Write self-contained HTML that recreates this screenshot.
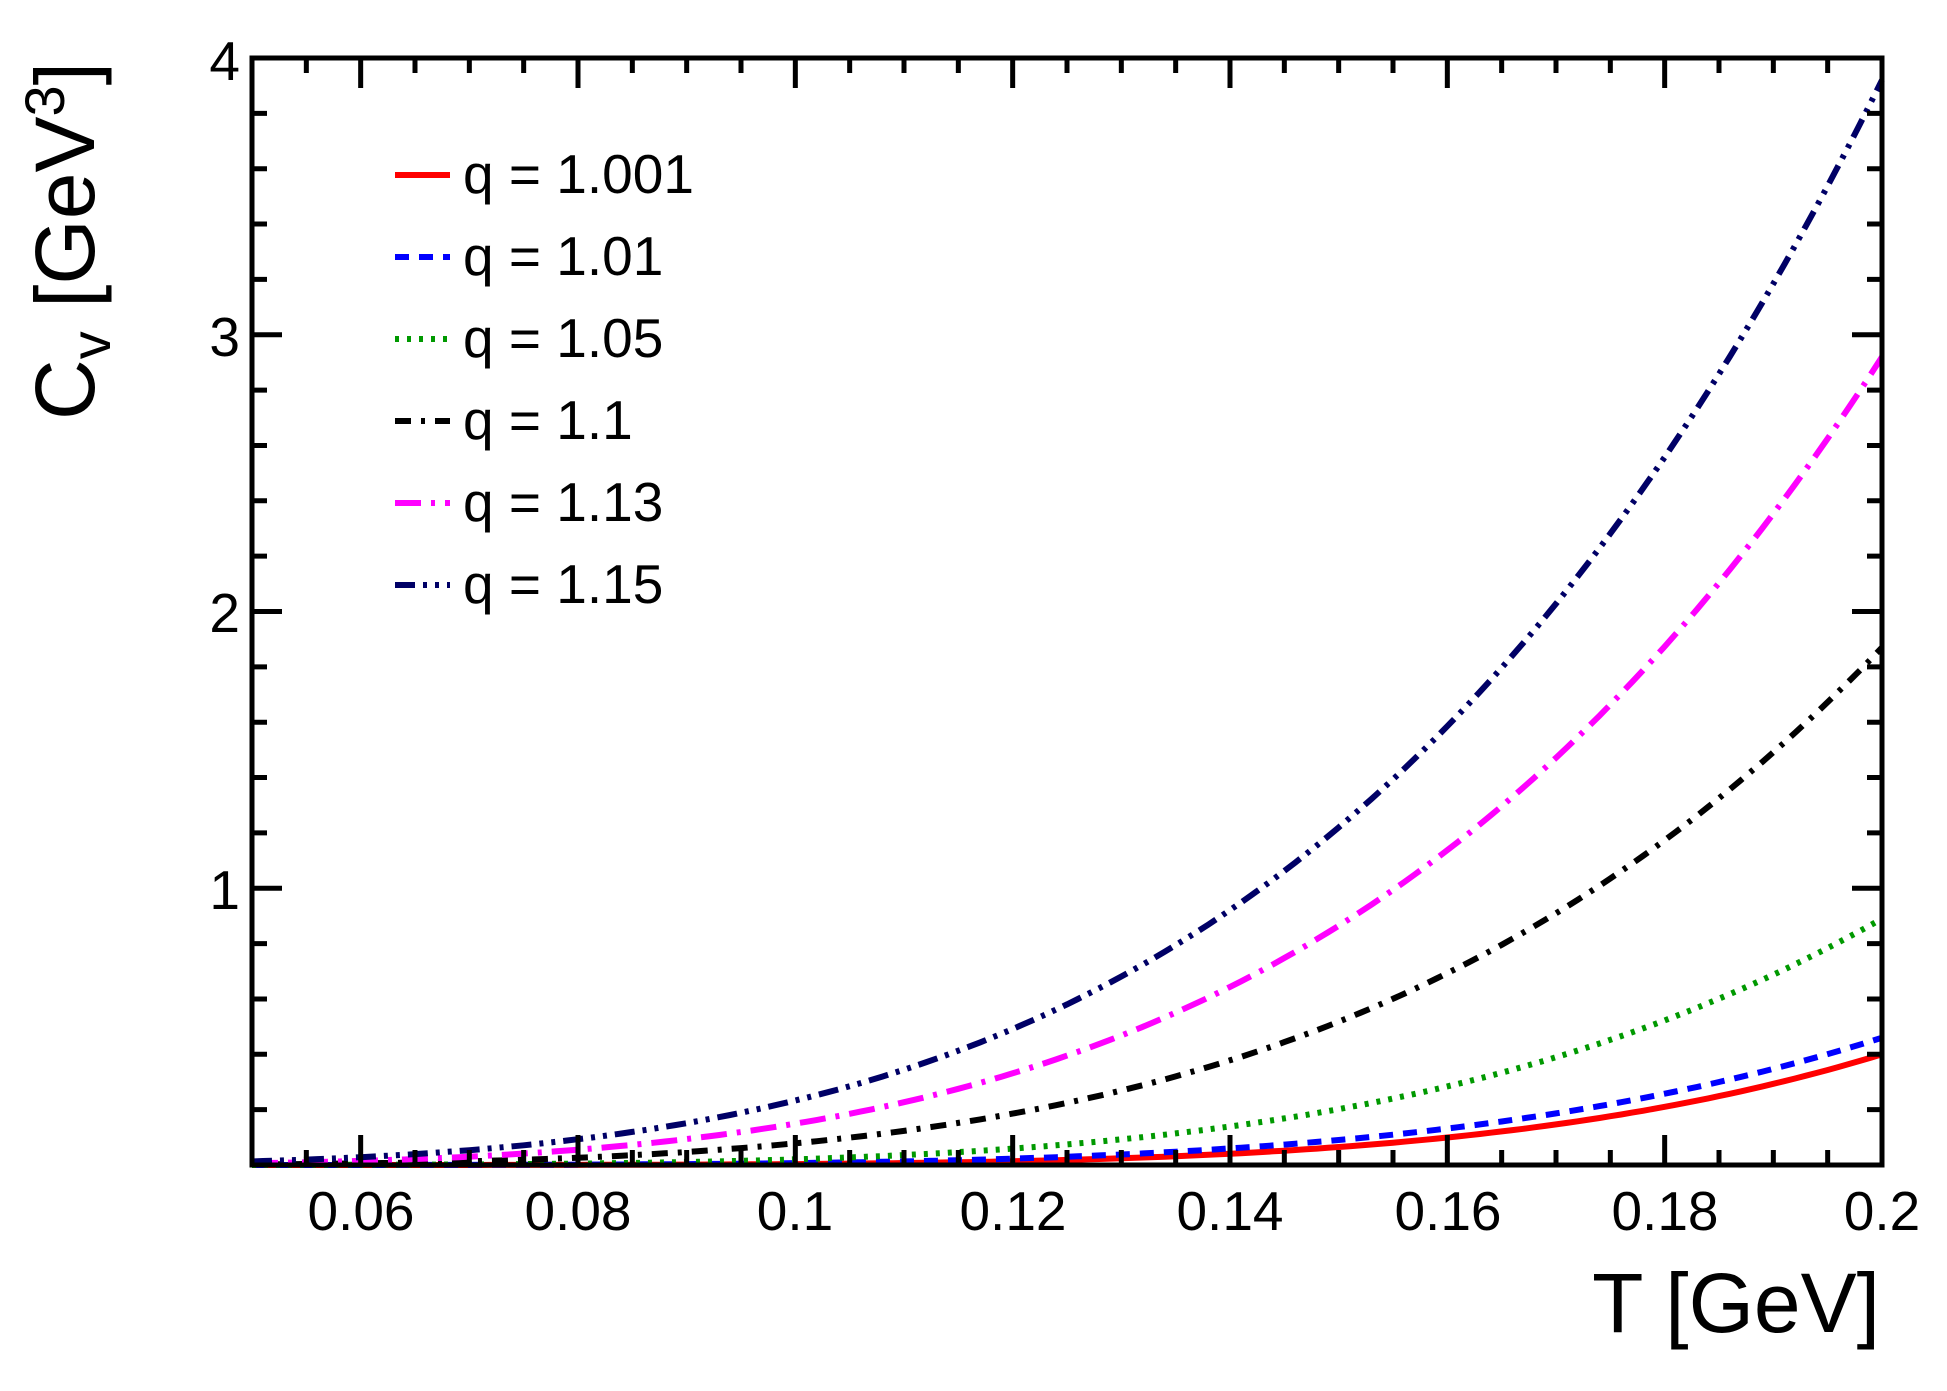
<!DOCTYPE html>
<html><head><meta charset="utf-8"><style>
html,body{margin:0;padding:0;background:#fff;}
svg{display:block;font-family:"Liberation Sans",Arial,sans-serif;}
</style></head><body>
<svg id="s" width="1947" height="1391" viewBox="0 0 1947 1391" xmlns="http://www.w3.org/2000/svg">
<rect width="1947" height="1391" fill="#fff"/>
<g id="curves" fill="none" stroke-width="6"></g>
<g id="ticks" stroke="#000" stroke-width="5"></g>
<rect x="252" y="58" width="1630" height="1107" fill="none" stroke="#000" stroke-width="5"/>
<g font-size="55" fill="#000" text-anchor="middle">
<text x="361" y="1230">0.06</text><text x="578" y="1230">0.08</text><text x="795" y="1230">0.1</text>
<text x="1013" y="1230">0.12</text><text x="1230" y="1230">0.14</text><text x="1448" y="1230">0.16</text>
<text x="1665" y="1230">0.18</text><text x="1882" y="1230">0.2</text>
</g>
<g font-size="55" fill="#000" text-anchor="end">
<text x="240" y="909">1</text><text x="240" y="632">2</text><text x="240" y="356">3</text><text x="240" y="80">4</text>
</g>
<text x="1880" y="1332" font-size="84" text-anchor="end">T [GeV]</text>
<text transform="translate(94,62) rotate(-90)" font-size="84" text-anchor="end">C<tspan font-size="56" dy="16">v</tspan><tspan dy="-16"> [GeV</tspan><tspan font-size="56" dy="-30">3</tspan><tspan dy="30">]</tspan></text>
<g id="legend" font-size="55" fill="#000"></g>
</svg>
<script>
var ns="http://www.w3.org/2000/svg";
function X(t){return 252+(t-0.05)/0.15*1630;}
function Y(v){return 1165-v*276.75;}
var tk=document.getElementById("ticks"),d="";
for(var i=0;i<=30;i++){var t=0.05+i*0.005,x=X(t),maj=(Math.round(t*1000)%20==0),L=maj?30:15;
 d+="M"+x+" 1165v-"+L+"M"+x+" 58v"+L;}
for(var i=0;i<=20;i++){var v=i*0.2,y=Y(v),maj=(i%5==0),L=maj?30:15;
 d+="M252 "+y+"h"+L+"M1882 "+y+"h-"+L;}
var p=document.createElementNS(ns,"path");p.setAttribute("d",d);tk.appendChild(p);
var S=[
 {A:0.40,k:2.0,c:"#ff0000",da:"",lab:"q = 1.001"},
 {A:0.46,k:1.43,c:"#0000ff",da:"14 10",lab:"q = 1.01"},
 {A:0.89,k:1.0,c:"#009900",da:"4 8",lab:"q = 1.05"},
 {A:1.87,k:0.4,c:"#000000",da:"16 10 4 10",lab:"q = 1.1"},
 {A:2.92,k:0.2,c:"#ff00ff",da:"26 10 4 10",lab:"q = 1.13"},
 {A:3.92,k:0.05,c:"#000066",da:"20 8 4 8 4 8",lab:"q = 1.15"}];
var cg=document.getElementById("curves"),lg=document.getElementById("legend");
S.forEach(function(s,j){
 var pts=[];for(var t=0.05;t<=0.20001;t+=0.001){var v=s.A*Math.pow(t/0.2,4)*Math.exp(-s.k*(0.2/t-1));pts.push(X(t).toFixed(1)+","+Y(v).toFixed(1));}
 var pl=document.createElementNS(ns,"polyline");pl.setAttribute("points",pts.join(" "));
 pl.setAttribute("stroke",s.c);if(s.da)pl.setAttribute("stroke-dasharray",s.da);cg.appendChild(pl);
 var yb=193+j*82;
 var ln=document.createElementNS(ns,"line");ln.setAttribute("x1",395);ln.setAttribute("x2",450);
 ln.setAttribute("y1",yb-18);ln.setAttribute("y2",yb-18);ln.setAttribute("stroke",s.c);ln.setAttribute("stroke-width",6);
 if(s.da)ln.setAttribute("stroke-dasharray",s.da);lg.appendChild(ln);
 var tx=document.createElementNS(ns,"text");tx.setAttribute("x",463);tx.setAttribute("y",yb);tx.textContent=s.lab;lg.appendChild(tx);
});
</script>
</body></html>
